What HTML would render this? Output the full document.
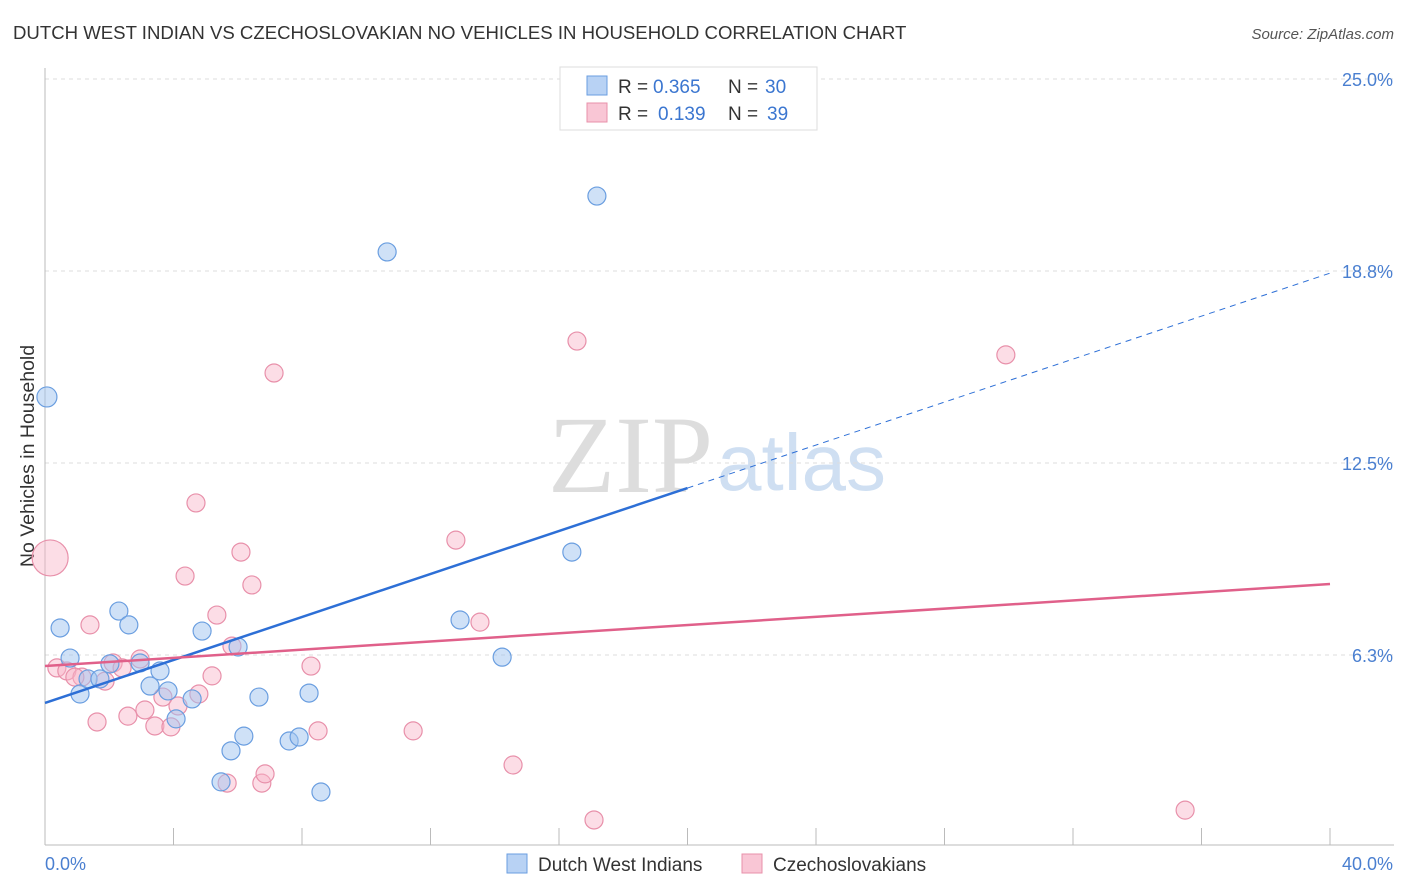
<!DOCTYPE html>
<html><head><meta charset="utf-8"><style>
body{margin:0;background:#fff;font-family:"Liberation Sans",sans-serif;}
svg{display:block}
</style></head><body>
<svg width="1406" height="892" id="chart">
<text x="13" y="39" font-size="18.6" fill="#333">DUTCH WEST INDIAN VS CZECHOSLOVAKIAN NO VEHICLES IN HOUSEHOLD CORRELATION CHART</text>
<text x="1394" y="39" font-size="15" font-style="italic" fill="#555" text-anchor="end">Source: ZipAtlas.com</text>
<text x="713" y="492" font-size="110" font-family="Liberation Serif,serif" fill="#ddd" text-anchor="end">ZIP</text>
<text x="717" y="490" font-size="80" fill="#cfdff2">atlas</text>
<text x="34" y="456" font-size="19.5" fill="#333" transform="rotate(-90 34 456)" text-anchor="middle">No Vehicles in Household</text>
<g id="grid"></g><g id="marks"></g>
<g>
<rect x="560" y="67" width="257" height="63" fill="#fff" stroke="#ddd"/>
<rect x="587" y="76" width="20" height="19" fill="#b8d2f4" stroke="#6a9ee0"/>
<text x="618" y="93" font-size="19" fill="#333">R =</text>
<text x="653" y="93" font-size="19" fill="#3b76d0">0.365</text>
<text x="728" y="93" font-size="19" fill="#333">N =</text>
<text x="765" y="93" font-size="19" fill="#3b76d0">30</text>
<rect x="587" y="103" width="20" height="19" fill="#f9c6d5" stroke="#e890aa"/>
<text x="618" y="120" font-size="19" fill="#333">R =</text>
<text x="658" y="120" font-size="19" fill="#3b76d0">0.139</text>
<text x="728" y="120" font-size="19" fill="#333">N =</text>
<text x="767" y="120" font-size="19" fill="#3b76d0">39</text>
</g>
<g>
<rect x="507" y="854" width="20" height="19" fill="#b8d2f4" stroke="#6a9ee0"/>
<text x="538" y="871" font-size="19" fill="#333">Dutch West Indians</text>
<rect x="742" y="854" width="20" height="19" fill="#f9c6d5" stroke="#e890aa"/>
<text x="773" y="871" font-size="19" fill="#333">Czechoslovakians</text>
</g>
</svg>
<script>
const yTicks=[6.25,12.5,18.75,25];
const yTickLabels=["6.3%","12.5%","18.8%","25.0%"];
const xTickLabels=["0.0%","40.0%"];
const blueX=[0.06,0.47,0.78,1.09,1.34,1.71,2.02,2.30,2.61,2.96,3.27,3.58,3.83,4.08,4.58,4.89,5.48,5.79,6.01,6.19,6.66,7.60,7.91,8.22,8.59,10.65,12.92,14.23,16.40,17.18];
const blueY=[14.65,7.13,6.15,4.98,5.47,5.47,5.96,7.68,7.23,5.99,5.24,5.73,5.08,4.17,4.82,7.03,2.12,3.13,6.51,3.61,4.88,3.45,3.58,5.01,1.79,19.37,7.39,6.18,9.60,21.19];
const pinkX=[0.16,0.37,0.68,1.15,1.40,1.62,1.87,2.12,2.58,2.96,3.11,3.42,3.67,3.92,4.14,4.36,4.70,4.79,5.20,5.35,5.67,5.82,6.10,6.44,6.75,6.85,7.13,8.28,8.50,11.46,12.79,13.54,14.57,16.56,17.09,29.91,35.49,2.40,0.93];
const pinkY=[9.41,5.83,5.73,5.53,7.23,4.07,5.40,5.99,4.26,6.12,4.46,3.94,4.88,3.91,4.59,8.82,11.20,4.98,5.57,7.55,2.08,6.54,9.60,8.53,2.08,2.38,15.43,5.89,3.78,3.78,9.99,7.32,2.67,16.47,0.88,16.02,1.20,5.83,5.53];
const blueTrend=[4.69,18.68];
const pinkTrend=[5.89,8.56];
const NS="http://www.w3.org/2000/svg";
const sx=v=>45+v*32.125, sy=v=>847-v*30.72;
function mk(t,a,p){const e=document.createElementNS(NS,t);for(const k in a)e.setAttribute(k,a[k]);p.appendChild(e);return e;}
const grid=document.getElementById('grid'),marks=document.getElementById('marks');
yTicks.forEach((t,i)=>{
 const l=mk('line',{x1:45,x2:1394,y1:sy(t),y2:sy(t),stroke:'#ddd','stroke-dasharray':'4,4'},grid);
 
 
 const tx=mk('text',{x:1393,y:sy(t)+7,'font-size':18,fill:'#4a7fd0','text-anchor':'end'},grid);
 tx.textContent=yTickLabels[i];
 
 
});
const ax=mk('line',{x1:45,x2:45,y1:68,y2:845,stroke:'#bbb'},grid);


const bx=mk('line',{x1:45,x2:1394,y1:845,y2:845,stroke:'#bbb'},grid);


for(let i=0;i<=10;i++){const t=mk('line',{x1:sx(i*4),x2:sx(i*4),y1:828,y2:845,stroke:'#bbb'},grid);
 
 }
[[0,'start'],[40,'end']].forEach((d,i)=>{const t=mk('text',{x:sx(d[0])+(i?63:0),y:870,'font-size':18,fill:'#4a7fd0','text-anchor':d[1]},grid);t.textContent=xTickLabels[i];
 
 });
function dots(X,Y,fill,stroke,name,bigIdx,bigR){X.forEach((x,i)=>{const c=mk('circle',{cx:sx(x),cy:sy(Y[i]),r:i===bigIdx?bigR:9,fill:fill,stroke:stroke,'stroke-width':1.2},marks);
 
 });}
dots(pinkX,pinkY,'rgba(248,180,200,0.45)','#e890aa','czechoslovakian-point',0,18);
dots(blueX,blueY,'rgba(160,196,240,0.5)','#6a9ee0','dutch-west-indian-point',0,10);
const bSplit=20;
const bAt=x=>blueTrend[0]+(blueTrend[1]-blueTrend[0])*x/40;
let l1=mk('line',{x1:sx(0),y1:sy(bAt(0)),x2:sx(bSplit),y2:sy(bAt(bSplit)),stroke:'#2d6fd6','stroke-width':2.5},marks);


let l2=mk('line',{x1:sx(bSplit),y1:sy(bAt(bSplit)),x2:sx(40),y2:sy(bAt(40)),stroke:'#2d6fd6','stroke-width':1,'stroke-dasharray':'6,5'},marks);


let l3=mk('line',{x1:sx(0),y1:sy(pinkTrend[0]),x2:sx(40),y2:sy(pinkTrend[1]),stroke:'#e0608a','stroke-width':2.5},marks);


</script>
</body></html>
